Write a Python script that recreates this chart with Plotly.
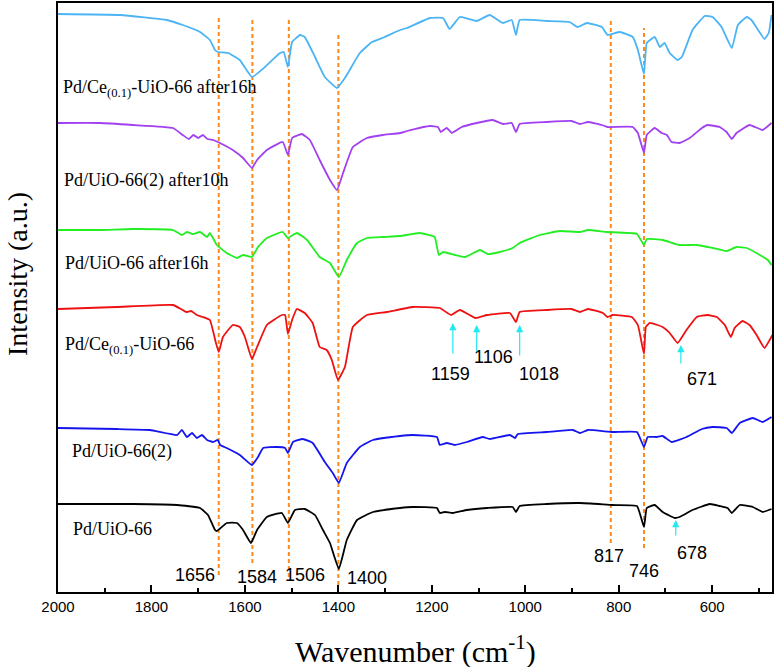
import plotly.graph_objects as go

# ---------------- data (wavenumber cm^-1, intensity a.u.) ----------------
wn_cyan = [2000, 1867, 1767, 1733, 1696, 1675, 1664, 1658, 1636, 1611, 1585, 1557, 1525, 1517, 1508, 1499,
           1482, 1472, 1450, 1429, 1403, 1386, 1354, 1328, 1301, 1268, 1253, 1204, 1176, 1162, 1140, 1104,
           1076, 1048, 1029, 1020, 1012, 954, 905, 888, 868, 836, 824, 798, 770, 759, 746, 740, 723, 712,
           702, 691, 674, 665, 642, 616, 599, 580, 558, 545, 526, 516, 488, 479, 473]
int_cyan = [578, 577, 572, 567, 560, 552, 542, 540, 539, 532, 515, 525, 539, 540, 525, 550,
            557, 555, 535, 515, 504, 514, 539, 550, 555, 562, 564, 574, 574, 563, 575, 571,
            577, 569, 572, 557, 572, 571, 570, 565, 569, 565, 557, 560, 555, 542, 518, 549, 555, 545,
            549, 539, 532, 535, 562, 576, 575, 565, 544, 567, 575, 572, 553, 559, 577]

wn_purple = [2000, 1910, 1840, 1754, 1733, 1720, 1710, 1700, 1690, 1680, 1668, 1658, 1626, 1604, 1585, 1574,
             1553, 1519, 1508, 1499, 1478, 1461, 1440, 1418, 1403, 1390, 1369, 1339, 1305, 1268, 1253, 1204,
             1187, 1181, 1168, 1157, 1136, 1104, 1070, 1048, 1029, 1020, 1012, 954, 901, 883, 866, 836,
             824, 770, 759, 746, 740, 723, 708, 697, 687, 670, 648, 622, 610, 584, 569, 558, 548, 520,
             492, 473]
int_purple = [469, 469, 467, 464, 457, 453, 457, 454, 457, 453, 452, 450, 442, 434, 424, 432,
              442, 450, 437, 454, 458, 452, 432, 412, 402, 419, 445, 454, 457, 459, 461, 466,
              465, 460, 464, 459, 465, 469, 472, 468, 469, 460, 468, 470, 471, 468, 470, 467,
              465, 465, 459, 439, 457, 464, 459, 457, 450, 449, 454, 464, 467, 465, 460, 453, 459, 467,
              462, 469]

wn_green = [2000, 1910, 1840, 1754, 1735, 1724, 1711, 1696, 1681, 1675, 1660, 1639, 1617, 1604, 1585, 1572,
            1553, 1519, 1508, 1489, 1467, 1440, 1418, 1399, 1382, 1360, 1339, 1305, 1268, 1226, 1194, 1185,
            1176, 1151, 1129, 1097, 1080, 1055, 1027, 1012, 969, 926, 883, 866, 826, 761, 746, 740,
            706, 670, 633, 599, 569, 548, 526, 498, 481, 473]
int_green = [362, 362, 363, 362, 357, 360, 358, 360, 355, 359, 347, 339, 334, 337, 335, 345,
             354, 360, 354, 359, 352, 335, 329, 315, 332, 349, 354, 355, 356, 359, 355, 337,
             340, 337, 335, 342, 338, 340, 344, 349, 357, 361, 360, 362, 360, 358, 347, 353,
             352, 347, 347, 344, 341, 345, 344, 337, 332, 327]

wn_red = [2000, 1874, 1754, 1737, 1726, 1715, 1703, 1690, 1675, 1662, 1656, 1647, 1626, 1611, 1600, 1585,
          1574, 1553, 1521, 1514, 1508, 1499, 1489, 1472, 1455, 1440, 1425, 1414, 1401, 1386, 1369, 1339,
          1296, 1241, 1183, 1159, 1140, 1106, 1082, 1033, 1020, 1012, 954, 901, 883, 866, 834, 824,
          813, 772, 759, 746, 742, 734, 717, 706, 691, 674, 655, 633, 610, 590, 573, 560, 552, 535,
          520, 505, 488, 477, 471]
int_red = [283, 285, 287, 283, 280, 281, 277, 275, 272, 249, 240, 255, 267, 265, 255, 233,
           245, 267, 277, 277, 258, 272, 283, 279, 269, 245, 242, 232, 212, 225, 265, 277,
           280, 285, 284, 277, 282, 274, 277, 279, 270, 280, 282, 283, 280, 283, 279, 275,
           277, 275, 267, 238, 265, 269, 267, 265, 259, 249, 262, 275, 277, 275, 267, 255, 264, 271,
           267, 257, 244, 252, 257]

wn_blue = [2000, 1874, 1803, 1745, 1735, 1724, 1713, 1703, 1692, 1681, 1668, 1658, 1653, 1639, 1611, 1585,
           1572, 1561, 1532, 1514, 1508, 1497, 1476, 1455, 1429, 1412, 1399, 1382, 1354, 1326, 1268, 1241,
           1189, 1183, 1168, 1151, 1125, 1091, 1076, 1033, 1022, 1016, 954, 898, 883, 866, 813, 761,
           746, 738, 719, 706, 687, 655, 622, 599, 569, 558, 541, 513, 492, 473]
int_blue = [164, 163, 162, 157, 162, 155, 159, 154, 157, 152, 150, 152, 147, 144, 137, 127,
            135, 144, 145, 144, 139, 150, 153, 149, 130, 119, 109, 129, 145, 152, 156, 157,
            155, 147, 149, 147, 150, 155, 153, 157, 154, 158, 160, 162, 159, 162, 160, 160,
            145, 155, 155, 156, 150, 155, 163, 165, 164, 159, 169, 174, 170, 175]

wn_black = [2000, 1840, 1745, 1696, 1679, 1664, 1660, 1639, 1617, 1604, 1587, 1574, 1553, 1521, 1508, 1493,
            1472, 1450, 1433, 1418, 1399, 1382, 1360, 1326, 1268, 1241, 1189, 1183, 1172, 1155, 1125, 1082,
            1027, 1020, 1012, 954, 883, 813, 761, 746, 740, 723, 706, 680, 670, 642, 605, 584, 567, 558,
            541, 513, 492, 473]
int_black = [88, 88, 87, 84, 77, 62, 61, 69, 69, 62, 49, 62, 75, 79, 69, 82,
             83, 77, 62, 49, 23, 52, 72, 80, 84, 85, 84, 79, 80, 79, 82, 84,
             85, 80, 86, 88, 89, 87, 86, 65, 84, 87, 80, 74, 75, 82, 88, 86, 84, 79,
             87, 85, 80, 83]

series_names = ["Pd/Ce<sub>(0.1)</sub>-UiO-66 after16h", "Pd/UiO-66(2) after10h", "Pd/UiO-66 after16h",
                "Pd/Ce<sub>(0.1)</sub>-UiO-66", "Pd/UiO-66(2)", "Pd/UiO-66"]
label_wn = [1991, 1989, 1987, 1987, 1972, 1970]
label_intensity = [504, 412, 329, 247, 141, 63]

# reference peak lines: position, lower and upper intensity
peak_pos = [1656, 1584, 1506, 1400, 817, 746]
peak_low = [17, 29, 15, 7, 49, 44]
peak_high = [575, 574, 572, 559, 572, 564]

# peak number labels: text, wavenumber, intensity
num_text = ["1656", "1584", "1506", "1400", "817", "746", "678", "1159", "1106", "1018", "671"]
num_wn = [1707, 1574, 1472, 1339, 821, 746, 644, 1159, 1067, 971, 622]
num_int = [17, 15, 17, 14, 36, 21, 39, 218, 235, 218, 213]

# cyan arrows: tip wavenumber, tip intensity, tail length
arrow_wn = [1155, 1104, 1012, 667, 678]
arrow_int = [269, 267, 267, 247, 72]
arrow_len = [32, 28, 32, 20, 17]

x_ticks = [2000, 1800, 1600, 1400, 1200, 1000, 800, 600]

colors = ["#4ab4f4", "#a040f0", "#22ee22", "#ee1111", "#1414ee", "#000000"]

fig = go.Figure()
xs = [wn_cyan, wn_purple, wn_green, wn_red, wn_blue, wn_black]
ys = [int_cyan, int_purple, int_green, int_red, int_blue, int_black]

for p, lo, hi in zip(peak_pos, peak_low, peak_high):
    fig.add_trace(go.Scatter(x=[p, p], y=[lo, hi], mode="lines",
                             line=dict(color="#ff8a1c", width=2, dash="4px,3px"),
                             hoverinfo="skip", showlegend=False))

for x, y, c, n in zip(xs, ys, colors, series_names):
    fig.add_trace(go.Scatter(x=x, y=y, mode="lines",
                             line=dict(color=c, width=1.8, shape="spline", smoothing=0.35),
                             name=n, showlegend=False))

for n, xw, yi in zip(series_names, label_wn, label_intensity):
    fig.add_annotation(x=xw, y=yi, text=n, showarrow=False, xanchor="left", yanchor="middle",
                       borderpad=0,
                       font=dict(family="Liberation Serif", size=18, color="black"))

for t, xw, yi in zip(num_text, num_wn, num_int):
    fig.add_annotation(x=xw, y=yi, text=t, showarrow=False, xanchor="center", yanchor="middle",
                       font=dict(family="Liberation Sans", size=18, color="black"))

for xw, yi, L in zip(arrow_wn, arrow_int, arrow_len):
    fig.add_annotation(x=xw, y=yi, ax=0, ay=L, text="", showarrow=True, arrowhead=2,
                       arrowsize=1.2, arrowwidth=1.2, arrowcolor="#22e8f0")

fig.add_annotation(xref="paper", yref="paper", x=0.5, y=-0.098, text="Wavenumber (cm<sup>-1</sup>)",
                   showarrow=False, xanchor="center", yanchor="middle",
                   font=dict(family="Liberation Serif", size=30, color="black"))
fig.add_annotation(xref="paper", yref="paper", x=-0.056, y=0.54, text="Intensity (a.u.)",
                   showarrow=False, textangle=-90, xanchor="center", yanchor="middle",
                   borderpad=0,
                   font=dict(family="Liberation Serif", size=28, color="black"))

fig.update_layout(
    width=774, height=667,
    margin=dict(l=58, r=2, t=3, b=75, autoexpand=False),
    paper_bgcolor="white", plot_bgcolor="white",
    xaxis=dict(range=[2000, 472], tickvals=x_ticks, ticks="inside", ticklen=7, tickwidth=1.5,
               tickcolor="black", showgrid=False, zeroline=False, showline=True, linecolor="black",
               linewidth=2, mirror=True, automargin=False,
               minor=dict(dtick=100, ticks="inside", ticklen=4, tickcolor="black", tickwidth=1.5),
               tickfont=dict(family="Liberation Sans", size=15, color="black")),
    yaxis=dict(range=[0, 589], showticklabels=False, ticks="", showgrid=False, zeroline=False,
               showline=True, linecolor="black", linewidth=2, mirror=True, automargin=False),
)

fig.write_html("out.html")
